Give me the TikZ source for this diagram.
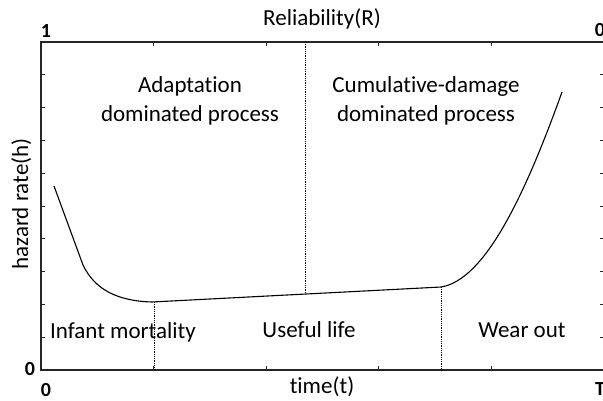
\documentclass[tikz,border=0pt]{standalone}
\usepackage{fontspec}
\setmainfont[Ligatures=NoCommon]{Carlito}
\begin{document}
\begin{tikzpicture}[x=1pt,y=-1pt,
  lbl/.style={inner sep=0pt, font=\fontsize{23}{29}\selectfont, align=center},
  endlbl/.style={inner sep=0pt, font=\fontsize{20}{24}\selectfont\bfseries},
  frame/.style={line width=1.2pt, draw=black!85},
  tick/.style={line width=0.8pt, draw=black!85},
  guide/.style={line width=0.8pt, densely dotted},
  curve/.style={line width=1.1pt, line join=round}]
\useasboundingbox (0,0) rectangle (603,400);
% axes frame
\draw[frame] (41,42) rectangle (604,370);
% ticks on the vertical axes
\foreach \k in {1,...,9}{
  \draw[tick] (41,42+32.8*\k) -- (45,42+32.8*\k);
  \draw[tick] (604,42+32.8*\k) -- (600,42+32.8*\k);
}
% ticks on the horizontal axes
\foreach \k in {1,...,4}{
  \draw[tick] (41+112.6*\k,42) -- (41+112.6*\k,46);
  \draw[tick] (41+112.6*\k,370) -- (41+112.6*\k,366);
}
% phase boundaries
\coordinate (b1top) at (154,302);
\coordinate (b1bot) at (154,370);
\coordinate (mtop) at (305,42);
\coordinate (mbot) at (305,294);
\coordinate (b2top) at (441,287);
\coordinate (b2bot) at (441,370);
\draw[guide] (b1top) -- (b1bot);
\draw[guide] (mtop) -- (mbot);
\draw[guide] (b2top) -- (b2bot);
% bathtub curve
\draw[curve] (54,186) -- (83,265) .. controls (95,290) and (118,301) .. (152,302)
  -- (441,287) .. controls (485,280) and (525,195) .. (562,92);
% axis labels
\node[lbl, anchor=base] (rel) at (322,25) {Reliability(R)};
\node[lbl, anchor=base] (time) at (322,393) {time(t)};
\node[lbl, anchor=base, rotate=90] (haz) at (28,204) {hazard rate(h)};
\node[endlbl] (one) at (46,31) {1};
\node[endlbl] (zr) at (600,30) {0};
\node[endlbl] (zl) at (30,369) {0};
\node[endlbl] (zb) at (46,390) {0};
\node[endlbl] (tT) at (600,389) {T};
% region labels
\node[lbl] (adapt) at (190,101) {Adaptation\\dominated process};
\node[lbl] (cumul) at (426,101) {Cumulative-damage\\dominated process};
\node[lbl, anchor=base] (infant) at (123,338) {Infant mortality};
\node[lbl, anchor=base] (useful) at (309,337) {Useful life};
\node[lbl, anchor=base] (wear) at (522,337) {Wear out};
\end{tikzpicture}
\end{document}
